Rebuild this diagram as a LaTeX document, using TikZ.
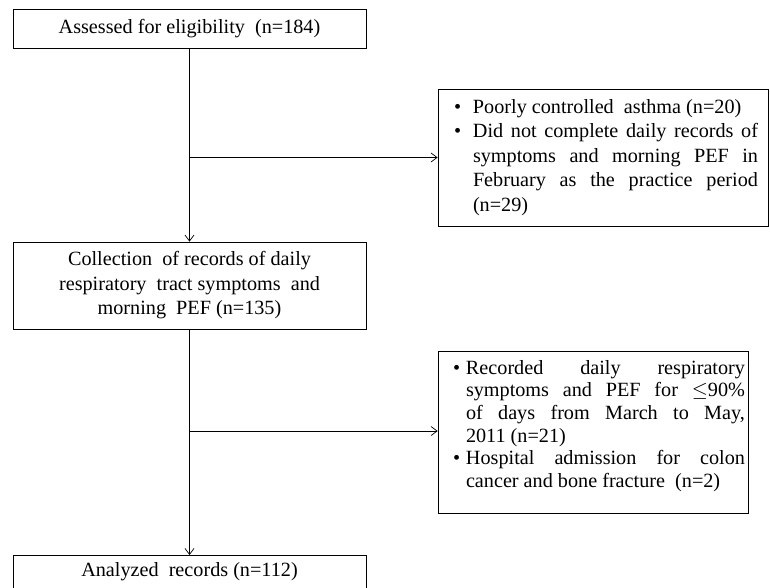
\documentclass[tikz,border=0pt]{standalone}
\usepackage{fontspec}
\setmainfont{Liberation Serif}
\usetikzlibrary{arrows.meta}

\newcommand{\bitem}[2]{\noindent\hangindent=#1\hangafter=1\makebox[#1][l]{\textbullet}#2\par}

\begin{document}
\begin{tikzpicture}[x=1pt, y=-1pt, line width=0.7pt,
    every node/.style={font=\fontsize{20.2}{24.5}\selectfont},
    mainbox/.style={draw, minimum width=353pt, align=center, inner sep=0pt},
    exclbox/.style={draw, align=justify, inner ysep=0pt},
    flow/.style={-{Straight Barb[length=6pt, width=9pt]}}]
    \useasboundingbox (0,0) rectangle (770,587);

    \node[mainbox, minimum height=39pt] (assess) at (189.5, 28.5) {Assessed for eligibility \ (n=184)};
    \node[mainbox, minimum height=87pt] (collect) at (189.5, 285.5) {Collection \ of records of daily\\respiratory \ tract symptoms \ and\\morning \ PEF (n=135)};
    \node[mainbox, minimum height=60pt, anchor=north, text depth=32pt] (analyzed) at (189.5, 555) {Analyzed \ records (n=112)};

    \node[exclbox, minimum width=330pt, minimum height=137pt, text width=320pt, inner xsep=5pt] (excl1) at (603, 157.5) {%
        \hyphenpenalty=10000 \leftskip=11pt \rightskip=5pt
        \bitem{19pt}{Poorly controlled \ asthma (n=20)}%
        \bitem{19pt}{Did not complete daily records of\linebreak symptoms and morning PEF in\linebreak February as the practice period\linebreak (n=29)}};
    \node[exclbox, minimum width=310pt, minimum height=162pt, text width=304pt, inner xsep=3pt,
          font=\fontsize{20.2}{22.7}\selectfont] (excl2) at (593, 432) {%
        \hyphenpenalty=10000 \leftskip=12pt
        \bitem{13pt}{Recorded daily respiratory\linebreak symptoms and PEF for $\leq$90\%\linebreak of days from March to May,\linebreak 2011 (n=21)}%
        \bitem{13pt}{Hospital admission for colon\linebreak cancer and bone fracture \ (n=2)}\kern12pt};

    % branch points
    \coordinate (b1) at (190, 157.5);
    \coordinate (b2) at (190, 431);

    \draw[flow] (assess) -- (collect);
    \draw[flow] (collect) -- (analyzed);
    \draw[flow] (b1) -- (b1 -| excl1.west);
    \draw[flow] (b2) -- (b2 -| excl2.west);
\end{tikzpicture}
\end{document}
